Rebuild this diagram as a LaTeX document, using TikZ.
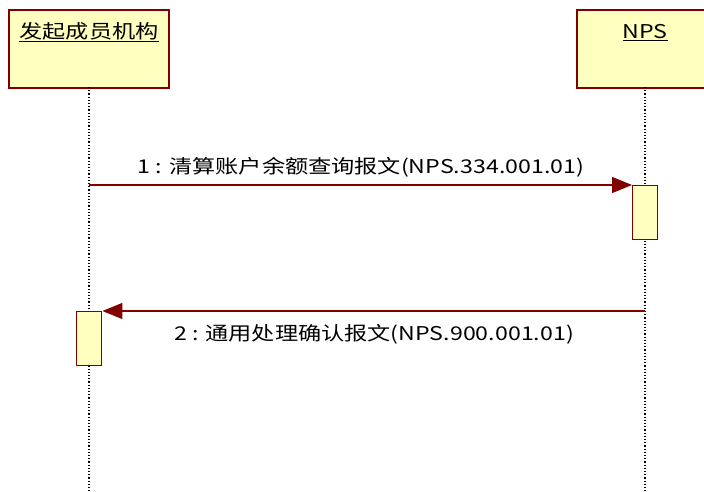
\documentclass[tikz,border=0pt]{standalone}
\usepackage{fontspec}
\setmainfont[FakeStretch=1.22]{Noto Sans CJK SC}
\usetikzlibrary{arrows.meta}
\definecolor{boxfill}{HTML}{FFFFC0}
\definecolor{boxline}{HTML}{800000}
\tikzset{
  actor/.style={draw=boxline, fill=boxfill, line width=1.8pt, inner sep=0pt},
  act/.style={draw=boxline, fill=boxfill, line width=1.4pt, inner sep=0pt},
  life/.style={black, line width=1.2pt, dash pattern=on 1.2pt off 2pt},
  msg/.style={boxline, line width=1.2pt, -{Triangle[length=20pt,width=16pt]}},
  lbl/.style={font=\fontsize{19}{22}\selectfont, inner sep=0pt},
}
\begin{document}
\begin{tikzpicture}[x=1pt,y=-1pt]
\useasboundingbox (0,0) rectangle (704,492);
% actor boxes
\node[actor, minimum width=160pt, minimum height=78pt, anchor=north west] (A) at (8,9) {};
\node[actor, minimum width=128pt, minimum height=78pt, anchor=north west] (B) at (576,9) {};
\node[lbl, anchor=center] (At) at (89,32) {\underline{发起成员机构}};
\node[lbl, anchor=center] (Bt) at (645,33) {\underline{NPS}};
% lifelines
\coordinate (Aend) at (89,492);
\coordinate (Bend) at (645,492);
\coordinate (Atop) at (89,87);
\coordinate (Btop) at (645,87);
\draw[life] (Atop) -- (Aend);
\draw[life] (Btop) -- (Bend);
% activation boxes
\node[act, minimum width=25pt, minimum height=54pt, anchor=north west] (Bact) at (632,185) {};
\node[act, minimum width=25pt, minimum height=54pt, anchor=north west] (Aact) at (76,311) {};
% messages
\coordinate (m1s) at (89,185);
\draw[msg] (m1s) -- (Bact.north west);
\node[lbl] (m1) at (361,167) {1 : 清算账户余额查询报文(NPS.334.001.01)};
\coordinate (m2s) at (645,311);
\draw[msg] (m2s) -- (Aact.north east);
\node[lbl] (m2) at (374,334) {2 : 通用处理确认报文(NPS.900.001.01)};
\end{tikzpicture}
\end{document}
